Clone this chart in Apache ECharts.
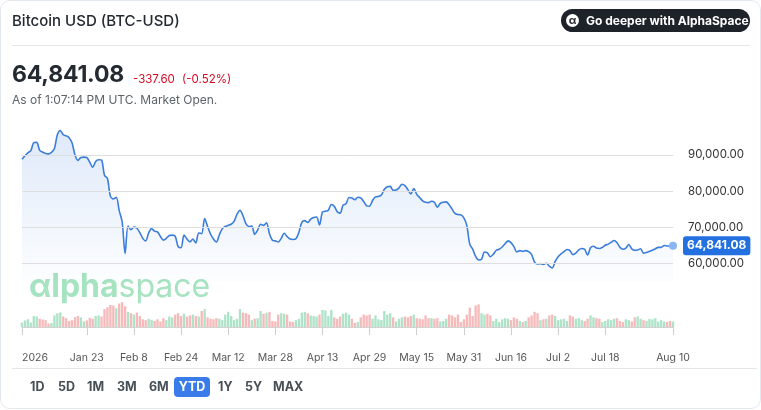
<!DOCTYPE html>
<html>
<head>
<meta charset="utf-8">
<script src="https://cdn.jsdelivr.net/npm/echarts@6/dist/echarts.min.js"></script>
<style>
  html, body { margin: 0; padding: 0; background: #fff; }
  body { width: 761px; height: 410px; position: relative; overflow: hidden; font-family: Inter, "Noto Sans", sans-serif; }
  #card { position: absolute; left: 0; top: 0; width: 759px; height: 407px; border: 1px solid #e3e7ee; border-radius: 10px; }
  #chart { position: absolute; left: 0; top: 0; width: 761px; height: 410px; }
  .abs { position: absolute; white-space: nowrap; }
  #title { left: 12px; top: 11px; font-size: 15px; font-weight: 500; color: #232a31; }
  #sep1 { left: 12px; top: 45px; width: 738px; height: 1px; background: #e4e6e9; }
  #sep2 { left: 12px; top: 368px; width: 745px; height: 1px; background: #e4e6e9; }
  #price { left: 12px; top: 60px; font-size: 23px; font-weight: 700; color: #232a31; letter-spacing: -0.2px; }
  #change { left: 133px; top: 72px; font-size: 11.5px; color: #d60a22; word-spacing: 4px; }
  #asof { left: 12px; top: 92px; font-size: 12px; color: #5b636a; }
  #deeper { left: 561px; top: 9px; width: 189px; height: 23px; border-radius: 12px; background: #1e2229; color: #fff; font-size: 12px; font-weight: 700; }
  #deeper .ic { position: absolute; left: 5px; top: 5px; width: 13px; height: 13px; border-radius: 50%; background: #fff; color: #1e2229; font-size: 11px; line-height: 12px; text-align: center; font-weight: 700; }
  #deeper .tx { position: absolute; left: 25px; top: 4px; }
  #ranges { left: 30px; top: 377px; height: 20px; }
  .rb { position: absolute; top: 0; height: 20px; line-height: 20px; font-size: 12.5px; font-weight: 700; color: #464e56; text-align: center; }
  .rb.on { background: #3a7bea; color: #fff; border-radius: 4px; }
</style>
</head>
<body>
<div id="card"></div>
<div id="chart"></div>
<div class="abs" id="title">Bitcoin USD (BTC-USD)</div>
<div class="abs" id="sep1"></div>
<div class="abs" id="deeper"><span class="ic">α</span><span class="tx">Go deeper with AlphaSpace</span></div>
<div class="abs" id="price">64,841.08</div>
<div class="abs" id="change">-337.60 (-0.52%)</div>
<div class="abs" id="asof">As of 1:07:14 PM UTC. Market Open.</div>
<div class="abs" id="sep2"></div>
<div class="abs" id="ranges"></div>
<script>
// daily close, Jan 1 - Aug 10 2026
var prices = [
  88800, 89800, 90600, 91200, 93400, 93500, 91300, 90800, 90400, 90300,
  90700, 91800, 95600, 96800, 95600, 95300, 94800, 93300, 90000, 88500,
  89300, 89400, 89300, 88000, 86600, 88200, 88700, 88600, 84400, 83500,
  78600, 77800, 78300, 74600, 71500, 62700, 70300, 69300, 70000, 69700,
  68500, 66900, 66200, 68400, 69600, 68900, 68700, 67400, 66400, 66900,
  67700, 67800, 67500, 64600, 64300, 67800, 66700, 65900, 66700, 65600,
  68400, 68200, 72400, 70200, 68100, 66700, 65900, 67900, 69600, 70200,
  70500, 70800, 71600, 73600, 74700, 73200, 71000, 70200, 70300, 68000,
  69200, 70800, 70500, 71200, 68200, 66400, 66200, 65900, 66900, 68300,
  67400, 66700, 66600, 66800, 68600, 71300, 71800, 71300, 72200, 72700,
  72800, 70600, 74200, 74400, 74700, 76300, 75800, 74300, 73900, 76100,
  76500, 78200, 78100, 77600, 78300, 78100, 77100, 75900, 75800, 77400,
  78400, 78500, 78900, 80500, 81200, 81300, 80200, 80300, 80900, 81900,
  81500, 80400, 79200, 80700, 79100, 78200, 77300, 76900, 76800, 77200,
  76900, 75500, 76600, 76900, 77000, 76200, 75000, 73800, 73500, 73400,
  72600, 70500, 65300, 63900, 61900, 60900, 61100, 63100, 62900, 61800,
  62500, 63600, 63900, 64500, 65400, 66200, 65700, 64600, 63100, 63500,
  63300, 63500, 63200, 62400, 60300, 59800, 59900, 59700, 60000, 59200,
  58700, 60500, 61800, 62600, 63200, 63800, 63500, 62400, 62800, 63700,
  64100, 63900, 62300, 64300, 64700, 64200, 64100, 64400, 65000, 65300,
  65800, 66300, 65700, 64400, 63900, 64200, 65200, 64000, 63600, 63700,
  64000, 62800, 63000, 63300, 63600, 64000, 64400, 64400, 64900, 64800,
  64700, 64841.08
];

// daily volume (arbitrary units)
var volumes = [
  16, 24, 28, 16, 40, 38, 30, 27, 25, 13,
  14, 42, 50, 53, 38, 32, 22, 25, 36, 40,
  35, 20, 24, 33, 30, 40, 42, 38, 65, 72,
  80, 78, 68, 85, 90, 75, 55, 50, 45, 52,
  40, 28, 25, 30, 26, 22, 28, 20, 32, 25,
  38, 35, 45, 50, 40, 48, 38, 42, 45, 40,
  38, 58, 65, 35, 30, 28, 32, 30, 25, 45,
  55, 40, 25, 30, 65, 52, 50, 45, 25, 30,
  32, 58, 48, 52, 55, 22, 20, 45, 50, 48,
  45, 20, 18, 25, 30, 52, 55, 50, 42, 40,
  38, 45, 62, 60, 40, 62, 35, 30, 38, 48,
  52, 45, 30, 15, 18, 35, 45, 42, 45, 30,
  42, 28, 25, 58, 45, 50, 35, 20, 30, 35,
  38, 35, 40, 45, 32, 30, 28, 42, 32, 32,
  30, 32, 20, 22, 30, 45, 42, 35, 45, 18,
  28, 45, 70, 40, 78, 82, 50, 45, 48, 42,
  22, 30, 18, 28, 32, 30, 25, 35, 30, 22,
  18, 22, 35, 42, 55, 50, 25, 28, 30, 42,
  45, 40, 25, 28, 30, 22, 42, 38, 30, 32,
  25, 22, 30, 42, 35, 32, 30, 18, 22, 28,
  25, 30, 32, 22, 18, 28, 25, 20, 35, 38,
  30, 25, 22, 30, 28, 32, 20, 25, 20, 18,
  22, 20
];

var gridValues = [60000, 70000, 80000, 90000];
var tickDates = ['2026-01-01', '2026-01-23', '2026-02-08', '2026-02-24', '2026-03-12', '2026-03-28',
  '2026-04-13', '2026-04-29', '2026-05-15', '2026-05-31', '2026-06-16', '2026-07-02', '2026-07-18', '2026-08-10'];
var tickLabels = ['2026', 'Jan 23', 'Feb 8', 'Feb 24', 'Mar 12', 'Mar 28',
  'Apr 13', 'Apr 29', 'May 15', 'May 31', 'Jun 16', 'Jul 2', 'Jul 18', 'Aug 10'];
var rangeButtons = ['1D', '5D', '1M', '3M', '6M', 'YTD', '1Y', '5Y', 'MAX'];
var rangeX = [0, 28, 57, 87, 119, 144, 188, 215, 243];
var rangeW = [13, 15, 16, 17, 17, 36, 12, 13, 27];

// one category per day
var days = [];
var start = Date.UTC(2026, 0, 1);
for (var i = 0; i < prices.length; i++) {
  days.push(new Date(start + i * 86400000).toISOString().slice(0, 10));
}

function showTick(index, value) {
  return tickDates.indexOf(value) >= 0;
}

function fmt(v) {
  return v.toLocaleString('en-US', { minimumFractionDigits: 2, maximumFractionDigits: 2 });
}

var rangesEl = document.getElementById('ranges');
rangeButtons.forEach(function (b, i) {
  var d = document.createElement('div');
  d.className = 'rb' + (b === 'YTD' ? ' on' : '');
  d.style.left = rangeX[i] + 'px';
  d.style.width = rangeW[i] + 'px';
  d.textContent = b;
  rangesEl.appendChild(d);
});

var myChart;
document.addEventListener("DOMContentLoaded", function () {
  myChart = echarts.init(document.getElementById('chart'));
  var last = prices.length - 1;
  var option = {
    animation: false,
    textStyle: { fontFamily: 'Inter' },
    graphic: [{
      type: 'text',
      left: 29,
      top: 271,
      z: 0,
      style: {
        rich: {
          a: { fontSize: 32, fontWeight: 'bold', fill: '#a6e3c0', fontFamily: 'Inter' },
          b: { fontSize: 32, fontWeight: 'normal', fill: '#a6e3c0', fontFamily: 'Inter' }
        },
        text: '{a|αlpha}{b|space}'
      }
    }],
    grid: [
      { left: 22, right: 88, top: 118.9, height: 162.4 },
      { left: 22, right: 88, top: 300, height: 27 }
    ],
    xAxis: [{
      type: 'category',
      gridIndex: 0,
      data: days,
      boundaryGap: false,
      show: false
    }, {
      type: 'category',
      gridIndex: 1,
      data: days,
      boundaryGap: false,
      offset: 11,
      axisLine: { show: true, lineStyle: { color: '#d2d2d2' } },
      axisTick: { show: true, interval: showTick, length: 8, lineStyle: { color: '#cfcfcf' } },
      axisLabel: {
        interval: showTick,
        margin: 14,
        color: '#555',
        fontSize: 10.5,
        alignMinLabel: 'left',
        formatter: function (v) { return tickLabels[tickDates.indexOf(v)]; }
      }
    }],
    yAxis: [{
      type: 'value',
      gridIndex: 0,
      position: 'right',
      min: 55000,
      max: 100000,
      interval: 5000,
      splitLine: { show: false },
      axisLine: { show: false },
      axisTick: { show: false },
      axisLabel: {
        margin: 15,
        color: '#333',
        fontSize: 11.5,
        formatter: function (v) { return gridValues.indexOf(v) >= 0 ? fmt(v) : ''; }
      }
    }, {
      type: 'value',
      gridIndex: 1,
      min: 0,
      max: 98,
      show: false
    }],
    series: [{
      name: 'BTC-USD',
      type: 'line',
      xAxisIndex: 0,
      yAxisIndex: 0,
      data: prices,
      smooth: 0.3,
      showSymbol: false,
      lineStyle: { color: '#3b7ddb', width: 1.6 },
      areaStyle: {
        color: new echarts.graphic.LinearGradient(0, 0, 0, 1, [
          { offset: 0, color: 'rgba(59,125,219,0.24)' },
          { offset: 1, color: 'rgba(59,125,219,0.02)' }
        ])
      },
      markLine: {
        silent: true,
        symbol: 'none',
        label: { show: false },
        lineStyle: { color: '#dedede', type: 'solid', width: 1 },
        data: gridValues.map(function (v) { return { yAxis: v }; })
      },
      markPoint: {
        silent: true,
        symbol: 'circle',
        symbolSize: 8,
        itemStyle: { color: '#8ab4f2' },
        label: {
          show: true,
          position: 'right',
          distance: 6,
          formatter: function () { return fmt(prices[last]); },
          backgroundColor: '#2370e0',
          color: '#fff',
          fontWeight: 'bold',
          fontSize: 12,
          padding: [4, 4, 3, 4],
          borderRadius: 3
        },
        data: [{ coord: [last, prices[last]] }]
      },
      z: 3
    }, {
      name: 'Volume',
      type: 'bar',
      xAxisIndex: 1,
      yAxisIndex: 1,
      data: volumes,
      barWidth: '80%',
      itemStyle: {
        color: function (p) {
          var i = p.dataIndex;
          return (i === 0 || prices[i] >= prices[i - 1]) ? 'rgba(140,215,178,0.7)' : 'rgba(240,140,140,0.6)';
        }
      },
      z: 2
    }]
  };
  myChart.setOption(option);
});
</script>
</body>
</html>
